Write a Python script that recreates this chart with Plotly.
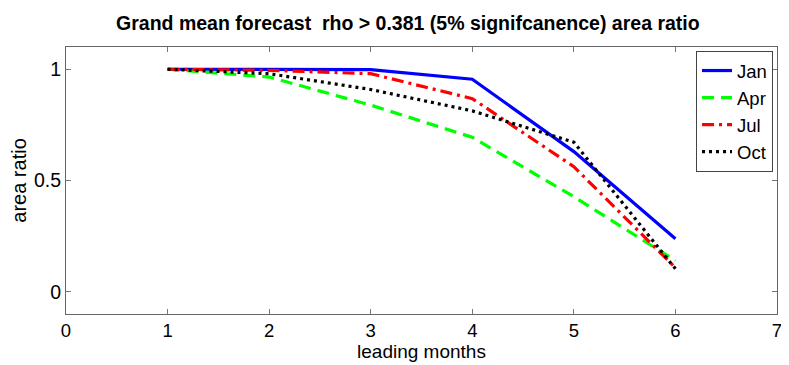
import plotly.graph_objects as go

lead_months = [1, 2, 3, 4, 5, 6]
jan = [1.0, 1.0, 0.998, 0.955, 0.63, 0.238]
apr = [1.0, 0.965, 0.839, 0.694, 0.427, 0.14]
jul = [1.0, 0.995, 0.98, 0.868, 0.562, 0.108]
octo = [1.0, 0.98, 0.909, 0.813, 0.672, 0.103]

series = [
    ("Jan", jan, "#0000ff", "solid"),
    ("Apr", apr, "#00ff00", "12px,7px"),
    ("Jul", jul, "#ff0000", "12px,5px,3px,5px"),
    ("Oct", octo, "#000000", "3px,4px"),
]

fig = go.Figure()
for name, vals, color, dash in series:
    fig.add_trace(go.Scatter(x=lead_months, y=vals, mode="lines", name=name,
                             line=dict(color=color, width=3.2, dash=dash)))

font = "Liberation Sans, Arial, sans-serif"
fig.update_layout(
    width=781, height=357,
    margin=dict(l=58, r=12, t=39, b=51, autoexpand=False),
    paper_bgcolor="white", plot_bgcolor="white",
    font=dict(family=font, size=20, color="black"),
    title=dict(text="<b>Grand mean forecast  rho > 0.381 (5% signifcanence) area ratio</b>",
               x=0.512, xanchor="center", y=0.958, yanchor="middle",
               font=dict(size=19.5, family=font)),
    showlegend=True,
    legend=dict(x=0.9944, xanchor="right", y=0.985, yanchor="top",
                bordercolor="#444444", borderwidth=1, bgcolor="white",
                font=dict(size=18.5), tracegroupgap=0, itemwidth=30),
    xaxis=dict(range=[0, 7], tickvals=[0, 1, 2, 3, 4, 5, 6, 7],
               ticks="inside", ticklen=5, tickcolor="#777777",
               showline=True, linecolor="#666666", linewidth=1, mirror="ticks",
               showgrid=False, zeroline=False, automargin=False,
               ticklabelstandoff=0, tickfont=dict(size=18.5),
               title=dict(text="leading months", standoff=0, font=dict(size=19))),
    yaxis=dict(range=[-0.1, 1.1], tickvals=[0, 0.5, 1], ticktext=["0", "0.5", "1"],
               ticks="inside", ticklen=5, tickcolor="#777777",
               showline=True, linecolor="#666666", linewidth=1, mirror="ticks",
               showgrid=False, zeroline=False, automargin=False,
               tickfont=dict(size=19.5),
               title=dict(text="area ratio", standoff=2, font=dict(size=20))),
)

fig.write_html("out.html")
